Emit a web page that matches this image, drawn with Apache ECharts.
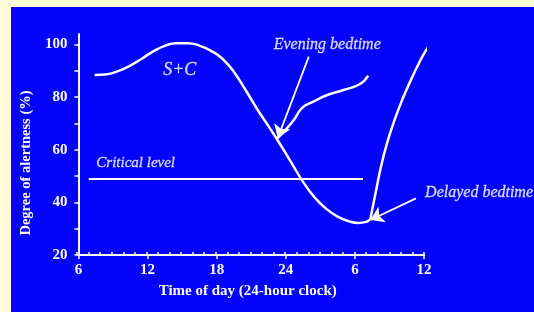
<!DOCTYPE html>
<html>
<head>
<meta charset="utf-8">
<title>Degree of alertness</title>
<script src="https://cdn.jsdelivr.net/npm/echarts@6.0.0/dist/echarts.min.js"></script>
<style>
  html, body { margin: 0; padding: 0; background: #fffcd7; }
  #chart { position: absolute; left: 11px; top: 7px; width: 523px; height: 305px; }
</style>
</head>
<body>
<div id="chart"></div>
<script>
'use strict';

/* axes: hours run 6 -> 36 (36 = 12h next day) */
var hourMin = 6, hourMax = 36, hourStep = 6;
var alertMin = 20, alertMax = 104;
var alertTicks = [20, 40, 60, 80, 100];
var alertMinorTicks = [20, 30, 40, 50, 60, 70, 80, 90, 100];

/* S+C curve */
var scHours  = [7.4, 8.5, 9.5, 10.5, 11.5, 12.5, 13.5, 14.5, 15.5, 16.5, 17.5, 18.5, 19.5, 20.5, 21.5, 22.5, 23.5, 24.5, 25.5, 26.5, 27.5, 28.5, 29.5, 30.3, 30.9, 31.3];
var scValues = [88.4, 88.7, 90.0, 92.0, 94.6, 97.4, 99.5, 100.5, 100.5, 99.6, 97.6, 94.6, 89.6, 82.8, 75.6, 69.0, 62.2, 55.0, 47.8, 41.9, 37.6, 34.6, 32.8, 32.2, 32.5, 33.4];

/* going to bed in the evening */
var eveningHours  = [23.3, 23.96, 24.7, 25.4, 26.4, 27.6, 29.0, 30.45, 31.15];
var eveningValues = [64.4, 67.5, 71.3, 75.8, 78.3, 80.8, 82.7, 85.0, 88.2];

/* going to bed late */
var delayedHours  = [31.33, 31.5, 31.85, 32.28, 32.8, 33.41, 34.1, 34.79, 35.48, 36.09, 36.69];
var delayedValues = [33.3, 37.1, 44.7, 53.8, 62.6, 70.9, 78.9, 85.8, 92.2, 97.2, 101.0];

/* critical level */
var criticalHours  = [6.9, 30.7];
var criticalValues = [48.9, 48.9];

/* arrows: [from, to] */
var eveningArrowHours  = [26.0, 23.3];
var eveningArrowValues = [95.4, 64.4];
var delayedArrowHours  = [35.3, 31.35];
var delayedArrowValues = [41.5, 33.3];

/* text notes */
var noteTexts  = ['S+C', 'Evening bedtime', 'Critical level', 'Delayed bedtime'];
var noteHours  = [14.8, 27.6, 10.97, 36.05];
var noteValues = [90.3, 99.8, 55.0, 43.8];

var ink = '#fbfbff';
var serif = '"Liberation Serif", "DejaVu Serif", serif';

function pairs(xs, ys) {
    return xs.map(function (x, i) { return [x, ys[i]]; });
}

function curve(name, xs, ys) {
    return {
        name: name,
        type: 'line',
        data: pairs(xs, ys),
        smooth: 0.5,
        showSymbol: false,
        clip: false,
        silent: true,
        lineStyle: { color: ink, width: 2.5 }
    };
}

function arrow(xs, ys) {
    return [{ coord: [xs[0], ys[0]] }, { coord: [xs[1], ys[1]] }];
}

var chart = echarts.init(document.getElementById('chart'));

var gridBox = { left: 66, right: 110, top: 27, bottom: 57 };

var option = {
    backgroundColor: '#0202fb',
    animation: false,
    grid: [
        Object.assign({}, gridBox),
        Object.assign({}, gridBox)
    ],
    xAxis: [
        {
            type: 'value',
            min: hourMin,
            max: hourMax,
            interval: hourStep,
            name: 'Time of day (24-hour clock)',
            nameLocation: 'middle',
            nameGap: 29,
            nameTextStyle: { color: ink, fontFamily: serif, fontSize: 15, fontWeight: 'bold', padding: [0, 7, 0, 0] },
            axisLine: { lineStyle: { color: ink, width: 2 } },
            axisTick: { show: true, length: 4, lineStyle: { color: ink, width: 1.5 } },
            axisLabel: {
                color: ink, fontFamily: serif, fontSize: 15, fontWeight: 'bold', margin: 8,
                formatter: function (v) { return v > 24 ? v - 24 : v; }
            },
            splitLine: { show: false }
        },
        {
            // hourly ticks pointing into the plot
            type: 'value',
            gridIndex: 1,
            min: hourMin,
            max: hourMax,
            interval: 1,
            axisLine: { show: false },
            axisTick: { show: true, inside: true, length: 3, lineStyle: { color: ink, width: 1.5 } },
            axisLabel: { show: false },
            splitLine: { show: false }
        }
    ],
    yAxis: [
        {
            type: 'value',
            min: alertMin,
            max: alertMax,
            interval: 10,
            name: 'Degree of alertness (%)',
            nameLocation: 'middle',
            nameGap: 40,
            nameTextStyle: { color: ink, fontFamily: serif, fontSize: 14.5, fontWeight: 'bold', padding: [0, 37, 0, 0] },
            axisLine: { lineStyle: { color: ink, width: 2 } },
            axisTick: { show: true, length: 4, customValues: alertMinorTicks, lineStyle: { color: ink, width: 1.5 } },
            axisLabel: { color: ink, fontFamily: serif, fontSize: 15, fontWeight: 'bold', margin: 11, customValues: alertTicks },
            splitLine: { show: false }
        },
        { type: 'value', gridIndex: 1, min: alertMin, max: alertMax, show: false }
    ],
    series: [
        curve('S+C', scHours, scValues),
        curve('Evening', eveningHours, eveningValues),
        curve('Delayed', delayedHours, delayedValues),
        {
            name: 'Critical level',
            type: 'line',
            data: pairs(criticalHours, criticalValues),
            showSymbol: false,
            silent: true,
            lineStyle: { color: ink, width: 2 },
            markLine: {
                silent: true,
                symbol: ['none', 'arrow'],
                symbolSize: 13,
                label: { show: false },
                lineStyle: { color: ink, width: 1.8, type: 'solid' },
                data: [
                    arrow(eveningArrowHours, eveningArrowValues),
                    arrow(delayedArrowHours, delayedArrowValues)
                ]
            }
        },
        {
            name: 'notes',
            type: 'scatter',
            symbolSize: 1,
            clip: false,
            silent: true,
            itemStyle: { color: 'transparent' },
            label: {
                show: true,
                position: 'inside',
                formatter: '{b}',
                color: ink,
                fontFamily: serif,
                fontStyle: 'italic',
                fontSize: 16,
                textBorderColor: ink,
                textBorderWidth: 0.3
            },
            data: noteTexts.map(function (t, i) {
                var item = { name: t, value: [noteHours[i], noteValues[i]] };
                if (t === 'S+C') {
                    item.label = { fontSize: 18 };
                }
                if (t === 'Critical level') {
                    item.label = { fontSize: 15 };
                }
                if (t === 'Delayed bedtime') {
                    item.label = { position: 'right', distance: 0 };
                }
                return item;
            })
        }
    ]
};

chart.setOption(option);
</script>
</body>
</html>
